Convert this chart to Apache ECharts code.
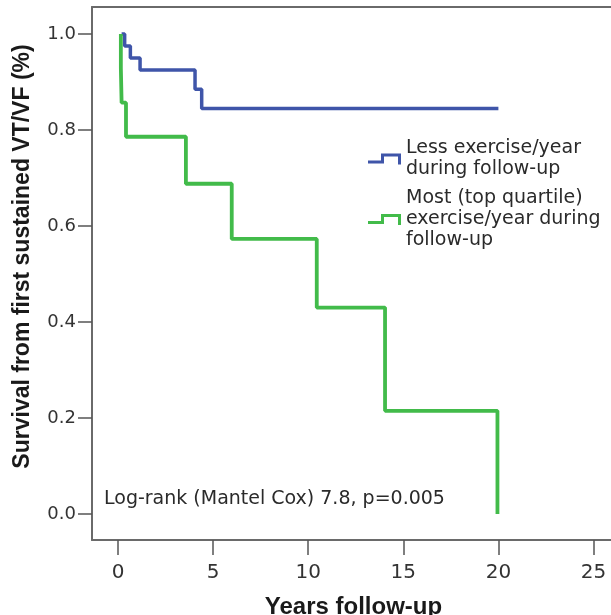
<!DOCTYPE html>
<html>
<head>
<meta charset="utf-8">
<script src="https://cdn.jsdelivr.net/npm/echarts@6/dist/echarts.min.js"></script>
<style>html,body{margin:0;padding:0;background:#fff;}#c{width:611px;height:615px;}</style>
</head>
<body>
<div id="c"></div>
<script>
// Kaplan-Meier step data (time in years, survival)
const lessTimes = [0.19, 0.35, 0.65, 1.16, 4.05, 4.40, 20.0];
const lessSurv  = [1.0, 0.975, 0.95, 0.925, 0.885, 0.845, 0.845];
const mostTimes = [0.15, 0.15, 0.19, 0.42, 3.57, 5.98, 10.45, 14.04, 19.95];
const mostSurv  = [1.0, 0.929, 0.857, 0.786, 0.688, 0.573, 0.43, 0.215, 0.0];
const seriesNames = ['Less exercise/year during follow-up', 'Most (top quartile) exercise/year during follow-up'];
const legendLines = {
  'Less exercise/year during follow-up': 'Less exercise/year\nduring follow-up',
  'Most (top quartile) exercise/year during follow-up': 'Most (top quartile)\nexercise/year during\nfollow-up'
};
const xTicks = [0, 5, 10, 15, 20, 25];
const yTicks = [0, 0.2, 0.4, 0.6, 0.8, 1.0];
const annotation = 'Log-rank (Mantel Cox) 7.8, p=0.005';

const zip = (a, b) => a.map((v, i) => [v, b[i]]);
const axisColor = '#6a6a6a';
const stepIcon = 'path://M0,7 L13,7 L13,0 L33,0 L33,11 L30,11 L30,3 L16,3 L16,10 L0,10 Z';

const chart = echarts.init(document.getElementById('c'), null, {renderer: 'canvas'});
chart.setOption({
  animation: false,
  backgroundColor: '#ffffff',
  grid: {left: 92, right: -4, top: 7, bottom: 75, outerBoundsMode: 'none', containLabel: false},
  title: {
    text: annotation,
    left: 104, top: 490, padding: 0,
    textStyle: {fontSize: 19, fontWeight: 'normal', color: '#2a2a2a', fontFamily: 'DejaVu Sans'}
  },
  legend: {
    orient: 'vertical', left: 368, top: 138, padding: 0,
    itemWidth: 33, itemHeight: 11, itemGap: 8,
    icon: stepIcon,
    data: seriesNames,
    formatter: n => legendLines[n],
    textStyle: {fontSize: 19, lineHeight: 21, color: '#2a2a2a', fontFamily: 'DejaVu Sans'}
  },
  xAxis: [{
    type: 'value', min: -1.367, max: 26.13,
    name: 'Years follow-up', nameLocation: 'middle', nameGap: 55,
    nameTextStyle: {fontSize: 24, fontWeight: 'bold', color: '#1a1a1a', fontFamily: 'Liberation Sans'},
    axisLine: {show: true, onZero: false, lineStyle: {color: axisColor, width: 2}},
    axisTick: {show: true, length: 15, customValues: xTicks, lineStyle: {color: '#555', width: 1.5}},
    axisLabel: {customValues: xTicks, margin: 23, fontSize: 20, color: '#333', fontFamily: 'DejaVu Sans'},
    splitLine: {show: false}
  }, {
    type: 'value', position: 'top', min: -1.367, max: 26.13,
    axisLine: {show: true, onZero: false, lineStyle: {color: axisColor, width: 2}},
    axisTick: {show: false}, axisLabel: {show: false}, splitLine: {show: false}
  }],
  yAxis: {
    type: 'value', min: -0.0542, max: 1.0563,
    name: 'Survival from first sustained VT/VF (%)', nameLocation: 'middle', nameGap: 58,
    nameTextStyle: {fontSize: 23, fontWeight: 'bold', color: '#1a1a1a', fontFamily: 'Liberation Sans', padding: [0, 0, 0, 34]},
    axisLine: {show: true, onZero: false, lineStyle: {color: axisColor, width: 2}},
    axisTick: {show: true, length: 14, customValues: yTicks, lineStyle: {color: '#555', width: 1.5}},
    axisLabel: {customValues: yTicks, margin: 16, fontSize: 18, color: '#333', fontFamily: 'DejaVu Sans',
      formatter: v => v.toFixed(1)},
    splitLine: {show: false}
  },
  series: [{
    name: seriesNames[0], type: 'line', step: 'end', showSymbol: false,
    data: zip(lessTimes, lessSurv),
    lineStyle: {color: '#3f55a9', width: 3.5}, itemStyle: {color: '#3f55a9'}
  }, {
    name: seriesNames[1], type: 'line', step: 'end', showSymbol: false,
    data: zip(mostTimes, mostSurv),
    lineStyle: {color: '#42bb4a', width: 3.8}, itemStyle: {color: '#42bb4a'}
  }]
});
</script>
</body>
</html>
